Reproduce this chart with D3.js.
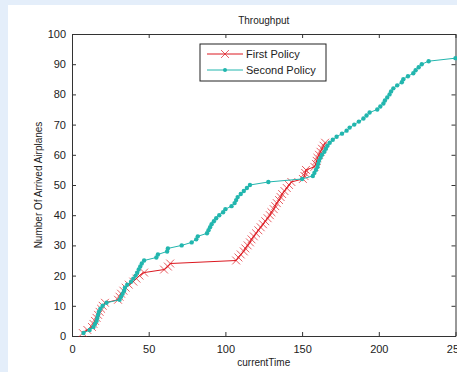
<!DOCTYPE html>
<html>
<head>
<meta charset="utf-8">
<script src="https://cdn.jsdelivr.net/npm/d3@7"></script>
<style>
  body { margin: 0; background: #e4eefa; }
  svg { display: block; }
  text { font-family: "Liberation Sans", Arial, sans-serif; fill: #222; }
</style>
</head>
<body>
<svg id="chart" width="457" height="372"></svg>
<script>
// arrival times (x) and cumulative counts (y) for each policy
const firstTimes = [7, 10, 13, 14, 15, 16, 17, 18, 19, 20, 21.5, 30, 31, 32, 33.5, 35, 37, 40, 42, 44, 47, 60, 62.5, 64,
  107, 108.5, 110, 112, 113, 114.5, 116, 117, 118.5, 120, 121.5, 123, 124.5, 126, 127.5, 129, 130, 131.5, 132.5, 133.5,
  135, 136, 137, 138.5, 140, 141.5, 143, 150.5, 151.5, 152, 152.5, 158, 159, 159.5, 160, 161, 162, 163, 164, 165];
const firstCounts = [1, 2, 3, 4, 5, 6, 7, 8, 9, 10, 11, 12, 13, 14, 15, 16, 17, 18, 19, 20, 21, 22, 23, 24,
  25, 26, 27, 28, 29, 30, 31, 32, 33, 34, 35, 36, 37, 38, 39, 40, 41, 42, 43, 44,
  45, 46, 47, 48, 49, 50, 51, 52, 53, 54, 55, 56, 57, 58, 59, 60, 61, 62, 63, 64];

const secondTimes = [7.5, 11.5, 14, 15, 16, 16.5, 17, 17.5, 18.5, 20, 22.5, 31, 32, 33, 34, 34.5, 36, 38.5, 40, 41.5,
  42.5, 43.5, 44.5, 45.5, 47, 55, 56, 62, 62.5, 71.5, 78, 81, 82, 88, 89, 90, 91, 92.5, 94, 96,
  98.5, 100, 104, 106, 107, 108, 110, 112, 114, 116, 128, 150, 157, 158, 159, 160, 160.5, 161, 162, 163,
  164.5, 165.5, 166.5, 168, 170, 172.5, 176, 179, 181, 184, 187, 190, 192, 194, 199, 201, 203, 204, 205.5, 207,
  208, 209.5, 212, 215, 216, 219, 222.5, 224, 226, 228, 232.5, 250];
const secondCounts = [1, 2, 3, 4, 5, 6, 7, 8, 9, 10, 11, 12, 13, 14, 15, 16, 17, 18, 19, 20,
  21, 22, 23, 24, 25, 26, 27, 28, 29, 30, 31, 32, 33, 34, 35, 36, 37, 38, 39, 40,
  41, 42, 43, 44, 45, 46, 47, 48, 49, 50, 51, 52, 53, 54, 55, 56, 57, 58, 59, 60,
  61, 62, 63, 64, 65, 66, 67, 68, 69, 70, 71, 72, 73, 74, 75, 76, 77, 78, 79, 80,
  81, 82, 83, 84, 85, 86, 87, 88, 89, 90, 91, 92];

const xTicks = [0, 50, 100, 150, 200, 250];
const yTicks = [0, 10, 20, 30, 40, 50, 60, 70, 80, 90, 100];
const seriesNames = ["First Policy", "Second Policy"];

const redColor = "#dc1820";
const cyanColor = "#22b6ae";

const svg = d3.select("#chart");

// white panel behind the axes
svg.append("rect")
  .attr("x", 8).attr("y", 5)
  .attr("width", 457).attr("height", 372)
  .attr("fill", "#fff");

const plotLeft = 72, plotRight = 455.5, plotTop = 34, plotBottom = 336;

const x = d3.scaleLinear().domain([0, 250]).range([plotLeft, plotRight]);
const y = d3.scaleLinear().domain([0, 100]).range([plotBottom, plotTop]);

// axes with inward ticks on all four sides
svg.append("g")
  .attr("transform", "translate(0," + plotBottom + ")")
  .call(d3.axisBottom(x).tickValues(xTicks).tickSizeInner(-4).tickSizeOuter(0).tickPadding(9))
  .call(g => g.selectAll("text").style("font-size", "11px"));

svg.append("g")
  .attr("transform", "translate(0," + plotTop + ")")
  .call(d3.axisTop(x).tickValues(xTicks).tickSizeInner(-4).tickSizeOuter(0).tickFormat(""));

svg.append("g")
  .attr("transform", "translate(" + plotLeft + ",0)")
  .call(d3.axisLeft(y).tickValues(yTicks).tickSizeInner(-4).tickSizeOuter(0).tickPadding(6))
  .call(g => g.selectAll("text").style("font-size", "11px"));

svg.append("g")
  .attr("transform", "translate(" + plotRight + ",0)")
  .call(d3.axisRight(y).tickValues(yTicks).tickSizeInner(-4).tickSizeOuter(0).tickFormat(""));

svg.selectAll(".domain, .tick line").attr("stroke", "#333");
svg.selectAll(".tick text").attr("fill", "#222");

// title and axis labels
svg.append("text")
  .attr("x", (plotLeft + plotRight) / 2).attr("y", 24)
  .attr("text-anchor", "middle")
  .style("font-size", "10px")
  .text("Throughput");

svg.append("text")
  .attr("x", (plotLeft + plotRight) / 2).attr("y", 366)
  .attr("text-anchor", "middle")
  .style("font-size", "10px")
  .text("currentTime");

svg.append("text")
  .attr("transform", "rotate(-90)")
  .attr("x", -(plotTop + plotBottom) / 2).attr("y", 42)
  .attr("text-anchor", "middle")
  .style("font-size", "10px")
  .text("Number Of Arrived Airplanes");

const firstData = firstTimes.map((t, i) => [t, firstCounts[i]]);
const secondData = secondTimes.map((t, i) => [t, secondCounts[i]]);

const line = d3.line().x(d => x(d[0])).y(d => y(d[1]));

// first policy: red line with x markers
svg.append("path")
  .datum(firstData)
  .attr("d", line)
  .attr("fill", "none")
  .attr("stroke", redColor)
  .attr("stroke-width", 1);

const cross = d3.symbol().type(d3.symbolX).size(42);
svg.selectAll(".m1")
  .data(firstData)
  .enter()
  .append("path")
  .attr("class", "m1")
  .attr("transform", d => "translate(" + x(d[0]) + "," + y(d[1]) + ")")
  .attr("d", cross)
  .attr("fill", "none")
  .attr("stroke", redColor)
  .attr("stroke-width", 0.7);

// second policy: cyan line with dot markers
svg.append("path")
  .datum(secondData)
  .attr("d", line)
  .attr("fill", "none")
  .attr("stroke", cyanColor)
  .attr("stroke-width", 1);

svg.selectAll(".m2")
  .data(secondData)
  .enter()
  .append("circle")
  .attr("class", "m2")
  .attr("cx", d => x(d[0]))
  .attr("cy", d => y(d[1]))
  .attr("r", 2.2)
  .attr("fill", cyanColor);

// legend
const legend = svg.append("g").attr("transform", "translate(200,44)");
legend.append("rect")
  .attr("width", 126).attr("height", 37)
  .attr("fill", "#fff")
  .attr("stroke", "#222");

const legendRows = [
  { name: seriesNames[0], color: redColor, marker: "x", dy: 10 },
  { name: seriesNames[1], color: cyanColor, marker: "dot", dy: 26 }
];
legendRows.forEach(r => {
  legend.append("line")
    .attr("x1", 7).attr("x2", 43)
    .attr("y1", r.dy).attr("y2", r.dy)
    .attr("stroke", r.color);
  if (r.marker === "x") {
    legend.append("path")
      .attr("transform", "translate(25," + r.dy + ")")
      .attr("d", cross)
      .attr("fill", "none")
      .attr("stroke", r.color)
      .attr("stroke-width", 0.7);
  } else {
    legend.append("circle")
      .attr("cx", 25).attr("cy", r.dy).attr("r", 2)
      .attr("fill", r.color);
  }
  legend.append("text")
    .attr("x", 46).attr("y", r.dy + 4)
    .style("font-size", "11px")
    .text(r.name);
});
</script>
</body>
</html>
